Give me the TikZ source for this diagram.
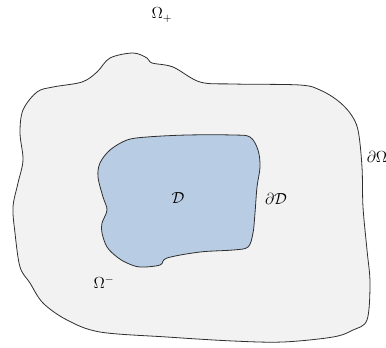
\documentclass[tikz,border=0pt]{standalone}
\usepackage{amsmath,amssymb}
\usepackage{xcolor}
\usetikzlibrary{positioning}
\definecolor{OuterGray}{HTML}{F2F2F2}
\definecolor{InnerBlue}{HTML}{B8CCE4}
\definecolor{EdgeGray}{HTML}{2E2E2E}

\begin{document}
\begin{tikzpicture}[
  x=0.75pt, y=-0.75pt,
  font=\large,
  % region outlines
  region/.style={draw=EdgeGray, line width=0.6pt, line join=round},
  % labels
  lbl/.style={inner sep=1pt},
]
\useasboundingbox (0,0) rectangle (386,347);

%% ── Outer domain ────────────────────────────────────────────────────────
\filldraw[region, fill=OuterGray] plot[smooth cycle, tension=0.55] coordinates {
  (82,82) (97,72) (110,58) (133,53) (147,58) (152,63) (173,67) (200,82)
  (233,84) (300,85) (320,90) (337,100) (350,113) (358,130) (362,167)
  (363,207) (367,250) (370,283) (367,320) (353,330) (333,337) (283,342)
  (233,341) (167,337) (100,332) (67,320) (43,303) (30,283) (20,267)
  (15,233) (13,207) (18,183) (23,160) (20,133) (23,110) (37,92) (53,87)};

%% ── Inner domain ────────────────────────────────────────────────────────
\filldraw[region, fill=InnerBlue] plot[smooth cycle, tension=0.55] coordinates {
  (110,150) (127,140) (147,137) (187,135) (233,135) (250,137) (258,150)
  (260,167) (257,187) (255,213) (253,233) (248,247) (233,250) (200,252)
  (167,258) (160,265) (140,267) (127,263) (117,257) (107,247) (102,233)
  (102,223) (107,210) (103,197) (98,177) (100,163)};

%% ── Labels ──────────────────────────────────────────────────────────────
\node[lbl] (OmP)  at (162,15)  {$\Omega_{+}$};
\node[lbl] (Dom)  at (178,198) {$\mathcal{D}$};
\node[lbl] (bD)   at (276,199) {$\partial\mathcal{D}$};
\node[lbl] (bOm)  at (377,157) {$\partial\Omega$};
\node[lbl] (OmM)  at (104,282) {$\Omega^{-}$};

\end{tikzpicture}
\end{document}
